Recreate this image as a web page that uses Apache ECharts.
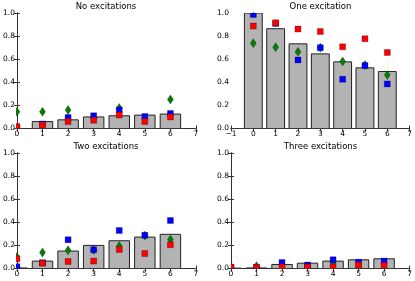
<!DOCTYPE html>
<html><head><meta charset="utf-8">
<script src="https://cdn.jsdelivr.net/npm/echarts@6/dist/echarts.min.js"></script>
<style>html,body{margin:0;padding:0;background:#fff}#c{width:415px;height:281px}</style>
</head><body><div id="c"></div>
<script>
var categories = [0, 1, 2, 3, 4, 5, 6];
var titles = ["No excitations", "One excitation", "Two excitations", "Three excitations"];
var yTicks = [0.0, 0.2, 0.4, 0.6, 0.8, 1.0];

var bars0  = [0.0, 0.06, 0.075, 0.10, 0.11, 0.116, 0.125];
var blue0  = [0.01, 0.04, 0.095, 0.11, 0.16, 0.104, 0.13];
var red0   = [0.017, 0.03, 0.06, 0.072, 0.116, 0.061, 0.10];
var green0 = [0.145, 0.145, 0.16, 0.09, 0.177, 0.08, 0.252];

var bars1  = [1.0, 0.864, 0.733, 0.646, 0.577, 0.525, 0.493];
var blue1  = [0.986, 0.91, 0.594, 0.70, 0.426, 0.545, 0.386];
var red1   = [0.887, 0.916, 0.861, 0.84, 0.707, 0.777, 0.658];
var green1 = [0.739, 0.704, 0.664, 0.70, 0.58, 0.55, 0.464];

var bars2  = [0.005, 0.064, 0.151, 0.2, 0.24, 0.272, 0.296];
var blue2  = [0.015, 0.05, 0.249, 0.162, 0.328, 0.287, 0.415];
var red2   = [0.084, 0.046, 0.061, 0.064, 0.165, 0.13, 0.206];
var green2 = [0.10, 0.139, 0.157, 0.16, 0.194, 0.285, 0.252];

var bars3  = [0.003, 0.005, 0.035, 0.046, 0.064, 0.075, 0.084];
var blue3  = [0.005, 0.008, 0.052, 0.03, 0.075, 0.055, 0.064];
var red3   = [0.012, 0.01, 0.012, 0.012, 0.012, 0.03, 0.027];
var green3 = [0.005, 0.02, 0.03, 0.01, 0.045, 0.02, 0.02];

var xMins = [0, -1, 0, 0];
var panels = [
  {bars: bars0, blue: blue0, red: red0, green: green0},
  {bars: bars1, blue: blue1, red: red1, green: green1},
  {bars: bars2, blue: blue2, red: red2, green: green2},
  {bars: bars3, blue: blue3, red: red3, green: green3}
];

var grids = [
  {left: 16, top: 13, width: 180, height: 115.5},
  {left: 231, top: 13, width: 179, height: 115.5},
  {left: 16, top: 153, width: 180, height: 115.5},
  {left: 231, top: 153, width: 179, height: 115.5}
];
var FONT = 'DejaVu Sans';
var lineC = '#333';

function pairs(arr){ return categories.map(function(c,i){ return [c, arr[i]]; }); }

function barRender(params, api){
  var x = api.value(0), v = api.value(1);
  var p0 = api.coord([x - 0.4, v]);
  var p1 = api.coord([x + 0.4, 0]);
  return {type:'rect', shape:{x:p0[0], y:p0[1], width:p1[0]-p0[0], height:Math.max(p1[1]-p0[1],0.5)},
    style:{fill:'#b3b3b3', stroke:'#222', lineWidth:1}};
}
function sqRender(color){
  return function(params, api){
    var p = api.coord([api.value(0), api.value(1)]);
    return {type:'rect', shape:{x:p[0]-3, y:p[1]-3, width:6, height:6},
      style:{fill:color, stroke:'rgba(0,0,0,0.45)', lineWidth:0.6}};
  };
}
function diaRender(params, api){
  var p = api.coord([api.value(0), api.value(1)]);
  return {type:'polygon', shape:{points:[[p[0],p[1]-4.5],[p[0]+3,p[1]],[p[0],p[1]+4.5],[p[0]-3,p[1]]]},
    style:{fill:'#007f00', stroke:'rgba(0,0,0,0.5)', lineWidth:0.5}};
}

var xAxes = [], yAxes = [], series = [], graphics = [];
grids.forEach(function(g, i){
  var base = {gridIndex:i, type:'value', min:xMins[i], max:7, interval:1,
    axisLine:{show:true, lineStyle:{color:lineC, width:1}},
    axisTick:{show:true, inside:true, length:3, lineStyle:{color:lineC}},
    splitLine:{show:false}};
  xAxes.push(Object.assign({}, base, {position:'bottom',
    axisLabel:{show:true, margin:2, fontSize:7.5, fontFamily:FONT, color:'#000',
      formatter:function(v){ return v < 0 ? '\u2212' + Math.abs(v) : String(v); }}}));
  xAxes.push(Object.assign({}, base, {position:'top', axisLabel:{show:false}}));
  var ybase = {gridIndex:i, type:'value', min:0, max:1, interval:0.2,
    axisLine:{show:true, lineStyle:{color:lineC, width:1}},
    axisTick:{show:true, inside:true, length:3, lineStyle:{color:lineC}},
    splitLine:{show:false}};
  yAxes.push(Object.assign({}, ybase, {position:'left',
    axisLabel:{show:true, margin:2, fontSize:7.5, fontFamily:FONT, color:'#000',
      formatter:function(v){ return v.toFixed(1); }}}));
  yAxes.push(Object.assign({}, ybase, {position:'right', axisLabel:{show:false}}));

  var P = panels[i];
  var common = {type:'custom', xAxisIndex:2*i, yAxisIndex:2*i, clip:true, silent:true};
  series.push(Object.assign({}, common, {renderItem:barRender, data:pairs(P.bars), z:2}));
  series.push(Object.assign({}, common, {renderItem:diaRender, data:pairs(P.green), z:3}));
  series.push(Object.assign({}, common, {renderItem:sqRender('#0000ff'), data:pairs(P.blue), z:4}));
  series.push(Object.assign({}, common, {renderItem:sqRender('#ff0000'), data:pairs(P.red), z:5}));

  graphics.push({type:'text', x:g.left + g.width/2, y:g.top - 1.5,
    style:{text:titles[i], textAlign:'center', textVerticalAlign:'bottom', fontSize:8.5, fontFamily:FONT, fill:'#000'}});
});

var chart = echarts.init(document.getElementById('c'), null, {renderer:'canvas'});
chart.setOption({
  animation:false,
  grid:grids,
  xAxis:xAxes,
  yAxis:yAxes,
  series:series,
  graphic:graphics
});
</script></body></html>
